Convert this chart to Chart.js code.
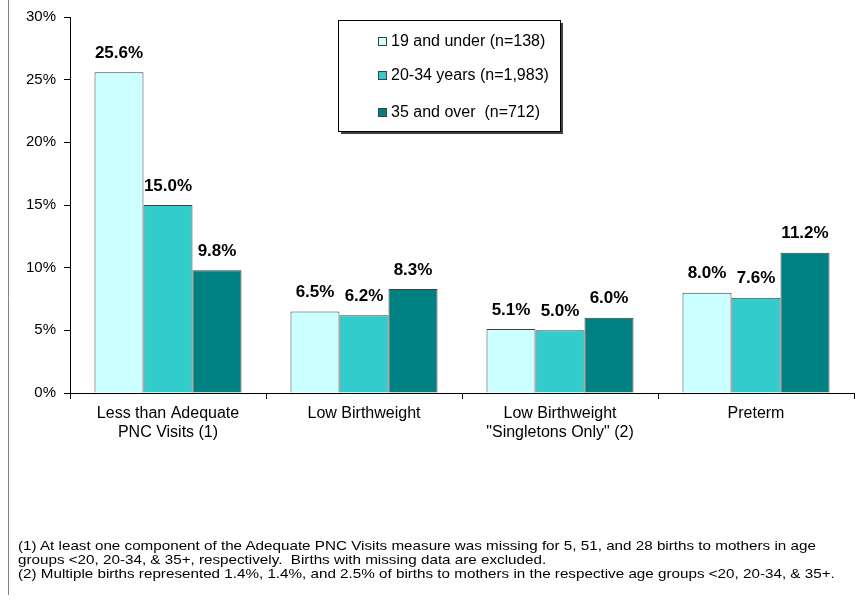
<!DOCTYPE html>
<html>
<head>
<meta charset="utf-8">
<script src="https://cdn.jsdelivr.net/npm/chart.js@4.4.1/dist/chart.umd.min.js"></script>
<style>
  html, body { margin: 0; padding: 0; background: #fff; }
  #wrap { position: relative; width: 865px; height: 606px; }
  #notes {
    position: absolute; left: 18px; top: 539px;
    font-family: "Liberation Sans", Arial, sans-serif;
    font-size: 13px; line-height: 14px; color: #000; white-space: nowrap;
    transform: scaleX(1.17); transform-origin: 0 0;
  }
</style>
</head>
<body>
<div id="wrap">
  <canvas id="ageChart" width="865" height="606"></canvas>
  <div id="notes">
    (1) At least one component of the Adequate PNC Visits measure was missing for 5, 51, and 28 births to mothers in age<br>
    groups &lt;20, 20-34, &amp; 35+, respectively.&nbsp; Births with missing data are excluded.<br>
    (2) Multiple births represented 1.4%, 1.4%, and 2.5% of births to mothers in the respective age groups &lt;20, 20-34, &amp; 35+.
  </div>
</div>
<script>
const categories = [
  ["Less than Adequate", "PNC Visits (1)"],
  ["Low Birthweight"],
  ["Low Birthweight", "\"Singletons Only\" (2)"],
  ["Preterm"]
];
const seriesNames = ["19 and under (n=138)", "20-34 years (n=1,983)", "35 and over  (n=712)"];
const under20 = [25.6, 6.5, 5.1, 8.0];
const age20to34 = [15.0, 6.2, 5.0, 7.6];
const age35plus = [9.8, 8.3, 6.0, 11.2];
const seriesColors = ["#CCFFFF", "#33CCCC", "#008080"];
const yTicks = [0, 5, 10, 15, 20, 25, 30];

const font = '"Liberation Sans", Arial, sans-serif';

// value labels above each bar
const valueLabels = {
  id: 'valueLabels',
  afterDatasetsDraw(chart) {
    const ctx = chart.ctx;
    ctx.save();
    ctx.font = 'bold 17px ' + font;
    ctx.fillStyle = '#000';
    ctx.textAlign = 'center';
    ctx.textBaseline = 'middle';
    chart.data.datasets.forEach((ds, i) => {
      chart.getDatasetMeta(i).data.forEach((bar, j) => {
        ctx.fillText(ds.data[j].toFixed(1) + '%', bar.x, bar.y - 19);
      });
    });
    ctx.restore();
  }
};

// legend box inside plot + outer frame line
const boxLegend = {
  id: 'boxLegend',
  afterDraw(chart) {
    const ctx = chart.ctx;
    ctx.save();
    // left frame line
    ctx.strokeStyle = '#808080';
    ctx.lineWidth = 1;
    ctx.beginPath();
    ctx.moveTo(8.5, 0);
    ctx.lineTo(8.5, 595);
    ctx.stroke();

    let x = 338, y = 20, w = 222, h = 111;
    ctx.fillStyle = '#404040';
    ctx.fillRect(x + 3, y + 3, w, h);
    ctx.fillStyle = '#fff';
    ctx.fillRect(x, y, w, h);
    ctx.strokeStyle = '#000';
    ctx.strokeRect(x + 0.5, y + 0.5, w, h);

    const rows = [41, 75, 112];
    ctx.font = '16px ' + font;
    ctx.textBaseline = 'middle';
    chart.data.datasets.forEach((ds, i) => {
      ctx.fillStyle = ds.backgroundColor;
      ctx.fillRect(378, rows[i] - 4, 9, 9);
      ctx.strokeStyle = '#404040';
      ctx.strokeRect(378.5, rows[i] - 3.5, 8, 8);
      ctx.fillStyle = '#000';
      ctx.fillText(ds.label, 391, rows[i] + 1);
    });
    ctx.restore();
  }
};

new Chart(document.getElementById('ageChart'), {
  type: 'bar',
  data: {
    labels: categories,
    datasets: [
      { label: seriesNames[0], data: under20, backgroundColor: seriesColors[0] },
      { label: seriesNames[1], data: age20to34, backgroundColor: seriesColors[1] },
      { label: seriesNames[2], data: age35plus, backgroundColor: seriesColors[2] }
    ].map(d => Object.assign(d, {
      borderColor: '#404040',
      borderWidth: 1,
      borderSkipped: 'bottom',
      categoryPercentage: 0.75,
      barPercentage: 1.0
    }))
  },
  options: {
    responsive: false,
    animation: false,
    layout: { padding: { top: 16, left: 0, right: 11, bottom: 0 } },
    plugins: {
      legend: { display: false },
      tooltip: { enabled: false }
    },
    scales: {
      x: {
        grid: { offset: true, drawOnChartArea: false, tickLength: 6, color: '#000' },
        border: { display: true, color: '#000' },
        ticks: { color: '#000', font: { family: font, size: 16 }, padding: 5, maxRotation: 0 },
        afterFit(scale) { scale.height = 213; }
      },
      y: {
        min: 0,
        max: 30,
        afterBuildTicks(scale) { scale.ticks = yTicks.map(v => ({ value: v })); },
        grid: { drawOnChartArea: false, tickLength: 6, color: '#000' },
        border: { display: true, color: '#000' },
        ticks: {
          color: '#000',
          font: { family: font, size: 15 },
          padding: 8,
          callback: v => v + '%'
        },
        afterFit(scale) { scale.width = 70; }
      }
    }
  },
  plugins: [valueLabels, boxLegend]
});
</script>
</body>
</html>
